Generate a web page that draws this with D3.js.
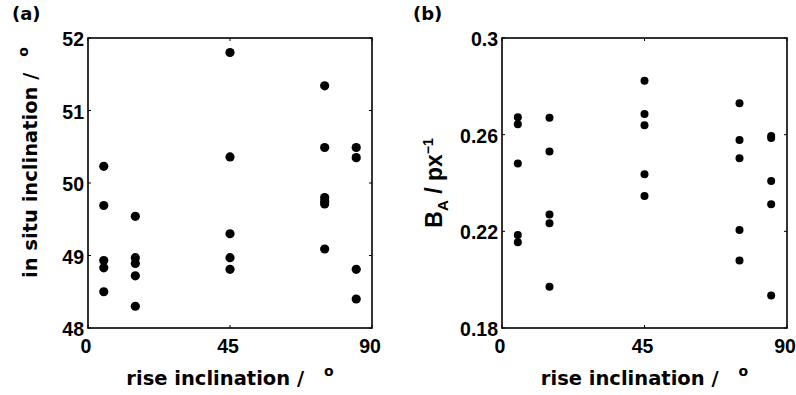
<!DOCTYPE html>
<html>
<head>
<meta charset="utf-8">
<script src="https://cdn.jsdelivr.net/npm/d3@7"></script>
<style>
  body { margin: 0; background: #fff; }
  .tick-label { font-family: "Liberation Sans", Arial, sans-serif; font-weight: bold; font-size: 19.5px; }
  .title { font-family: "DejaVu Sans", sans-serif; font-weight: bold; }
</style>
</head>
<body>
<div id="chart"></div>
<script>
// rise inclination (deg) for every measurement
const riseA = [5, 5, 5, 5, 5, 15, 15, 15, 15, 15, 45, 45, 45, 45, 45, 75, 75, 75, 75, 75, 75, 85, 85, 85, 85];
const inSitu = [50.23, 49.69, 48.93, 48.83, 48.5, 49.54, 48.97, 48.89, 48.72, 48.3, 51.8, 50.36, 49.3, 48.97, 48.81, 51.34, 50.49, 49.8, 49.75, 49.71, 49.09, 50.49, 50.35, 48.81, 48.4];

const riseB = [5, 5, 5, 5, 5, 15, 15, 15, 15, 15, 45, 45, 45, 45, 45, 75, 75, 75, 75, 75, 85, 85, 85, 85, 85];
const bA = [0.2672, 0.2643, 0.2481, 0.2185, 0.2155, 0.267, 0.253, 0.227, 0.2233, 0.1971, 0.2823, 0.2686, 0.2639, 0.2436, 0.2346, 0.273, 0.2578, 0.2502, 0.2206, 0.2079, 0.2594, 0.2586, 0.2408, 0.2312, 0.1934];

const xTicks = [0, 45, 90];
const yTicksA = [48, 49, 50, 51, 52];
const yTicksB = [0.18, 0.22, 0.26, 0.3];

const width = 796, height = 395;
const svg = d3.select("#chart").append("svg")
    .attr("width", width)
    .attr("height", height);

function panel(opts) {
    const x = d3.scaleLinear().domain([0, 90]).range([opts.left, opts.right]);
    const y = d3.scaleLinear().domain(opts.yDomain).range([opts.bottom, opts.top]);
    const g = svg.append("g");

    // small inward ticks on all four sides
    const tl = 3;
    xTicks.forEach(t => {
        g.append("line").attr("x1", x(t)).attr("x2", x(t)).attr("y1", opts.bottom).attr("y2", opts.bottom - tl).attr("stroke", "#000");
        g.append("line").attr("x1", x(t)).attr("x2", x(t)).attr("y1", opts.top).attr("y2", opts.top + tl).attr("stroke", "#000");
        g.append("text").attr("class", "tick-label")
            .attr("x", x(t) - 2).attr("y", opts.bottom + 25)
            .attr("text-anchor", "middle").text(t);
    });
    opts.yTicks.forEach(t => {
        g.append("line").attr("x1", opts.left).attr("x2", opts.left + tl).attr("y1", y(t)).attr("y2", y(t)).attr("stroke", "#000");
        g.append("line").attr("x1", opts.right).attr("x2", opts.right - tl).attr("y1", y(t)).attr("y2", y(t)).attr("stroke", "#000");
        g.append("text").attr("class", "tick-label")
            .attr("x", opts.left - 4).attr("y", y(t) + 1).attr("dy", "0.36em")
            .attr("text-anchor", "end").text(opts.fmt(t));
    });

    g.append("rect")
        .attr("x", opts.left).attr("y", opts.top)
        .attr("width", opts.right - opts.left).attr("height", opts.bottom - opts.top)
        .attr("fill", "none").attr("stroke", "#000").attr("stroke-width", 1.6);

    g.selectAll("circle")
        .data(opts.xs.map((d, i) => [d, opts.ys[i]]))
        .enter().append("circle")
        .attr("cx", d => x(d[0]))
        .attr("cy", d => y(d[1]))
        .attr("r", opts.r)
        .attr("fill", "#000");

    // x axis title
    const xt = g.append("text").attr("class", "title")
        .attr("x", (opts.left + opts.right) / 2).attr("y", 385)
        .attr("text-anchor", "middle").style("font-size", "19.5px");
    xt.append("tspan").text("rise inclination /");
    xt.append("tspan").attr("dx", 20).attr("dy", -9).style("font-size", "14px").text("o");

    g.append("text").attr("class", "title")
        .attr("x", opts.label[0]).attr("y", 20)
        .style("font-size", "18px").text(opts.label[1]);
    return g;
}

panel({ left: 88, right: 372, top: 38, bottom: 328, yDomain: [48, 52], yTicks: yTicksA,
        fmt: d => d, xs: riseA, ys: inSitu, r: 4.6, label: [12, "(a)"] });

panel({ left: 502, right: 787, top: 38, bottom: 328, yDomain: [0.18, 0.3], yTicks: yTicksB,
        fmt: d => d3.format("")(+d.toFixed(2)), xs: riseB, ys: bA, r: 4, label: [413, "(b)"] });

// y axis titles
const ya = svg.append("text").attr("class", "title")
    .attr("transform", "translate(37,278) rotate(-90)")
    .style("font-size", "19.5px");
ya.append("tspan").text("in situ inclination /");
ya.append("tspan").attr("dx", 16).attr("dy", -9).style("font-size", "14px").text("o");

const yb = svg.append("text")
    .attr("transform", "translate(442,183) rotate(-90)")
    .attr("text-anchor", "middle")
    .style("font-family", "'Liberation Sans', Arial, sans-serif")
    .style("font-weight", "bold")
    .style("font-size", "23px");
yb.append("tspan").text("B");
yb.append("tspan").attr("dy", 6).style("font-size", "15px").text("A");
yb.append("tspan").attr("dy", -6).text(" / px");
yb.append("tspan").attr("dy", -9).style("font-size", "14px").text("\u22121");
</script>
</body>
</html>
